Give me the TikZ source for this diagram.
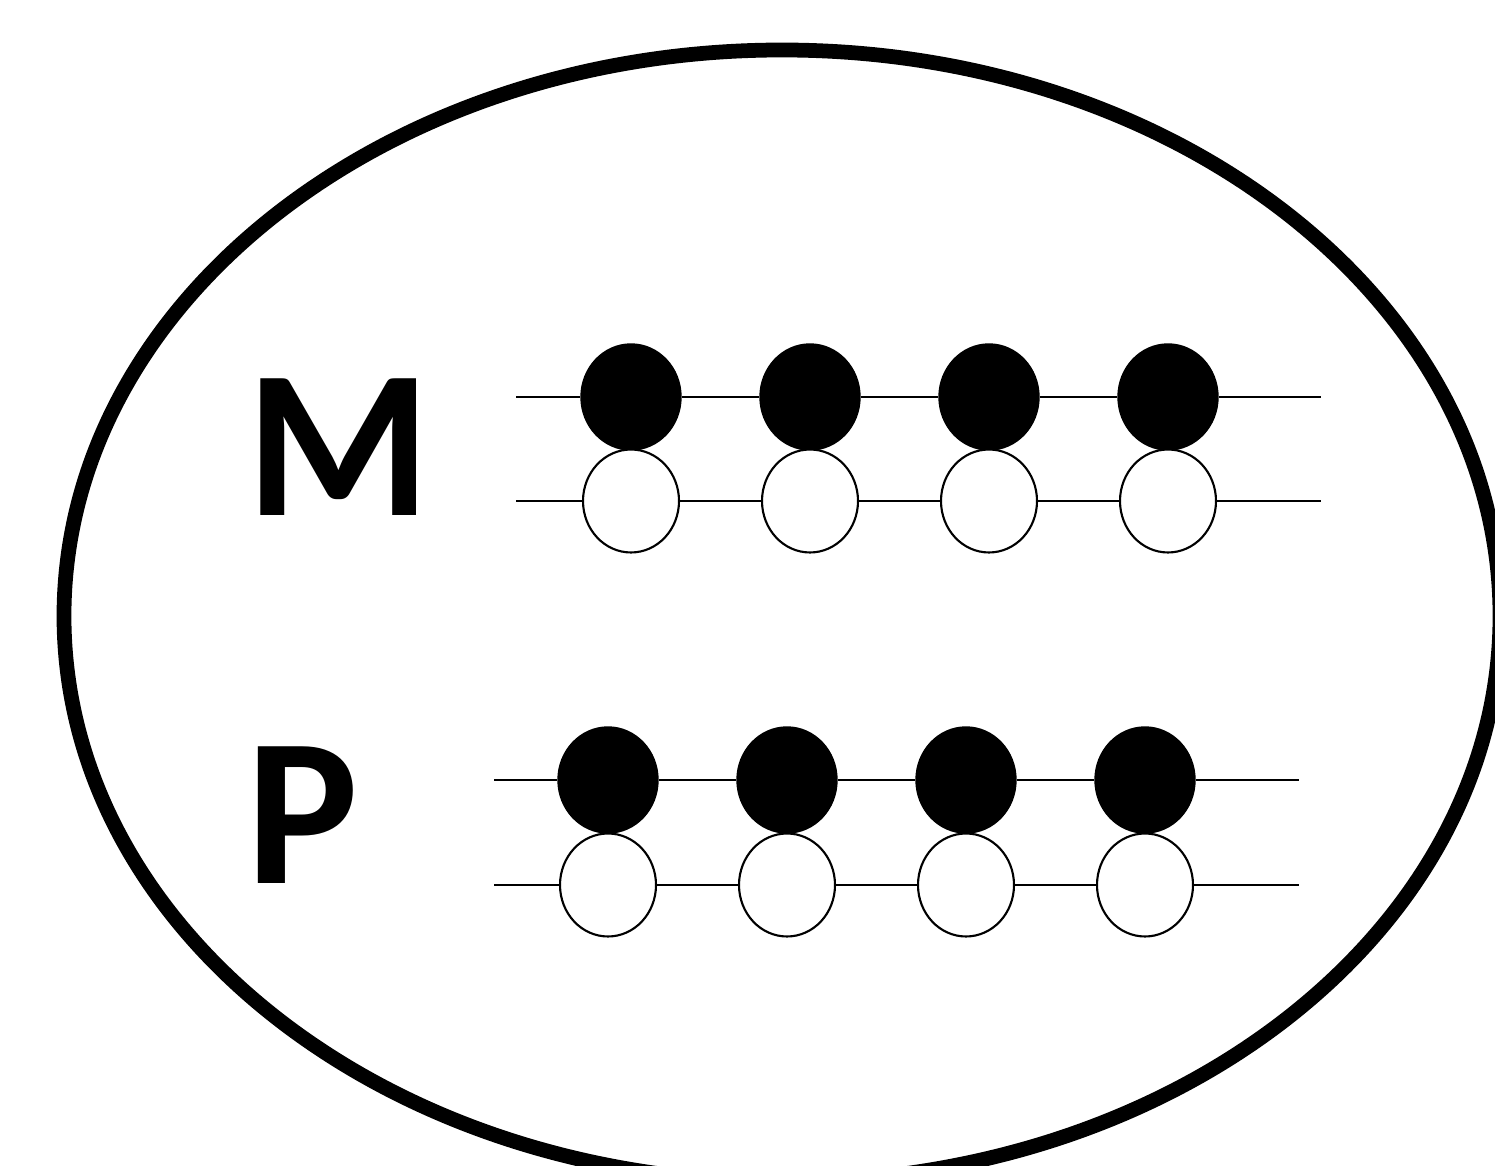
\documentclass[tikz,border=0pt]{standalone}
\usepackage{fontspec}
\setmainfont{Carlito}
\usetikzlibrary{shapes.geometric}
\tikzset{full bead/.style={ellipse,draw,fill=black,minimum width=1cm,minimum height=1.06cm,inner sep=0pt},
open bead/.style={ellipse,draw,fill=white,line width=0.6pt,minimum width=0.96cm,minimum height=1.03cm,inner sep=0pt},
wire/.style={line width=0.6pt},
big letter/.style={font=\fontsize{60}{60}\selectfont\bfseries,inner sep=0pt,anchor=base west}}

\begin{document}
\begin{tikzpicture}
			\useasboundingbox (0,0) rectangle (14.95,11.66);
			\clip (0,0) rectangle (14.95,11.66);
			\def\dx{1.79}
			% outer ring
			\draw[line width=4.2pt] (7.82,5.50) ellipse [x radius=7.18,y radius=5.66];

			% labels
			\node[big letter] (labM) at (2.46,6.50) {M};
			\node[big letter] (labP) at (2.46,2.82) {P};

			% upper pair of rows
			\foreach \i in {1,...,4}{
				\node[full bead] (m\i) at ({6.31+(\i-1)*\dx},7.69) {};
				\node[open bead] (n\i) at ({6.31+(\i-1)*\dx},6.65) {};
			}
			\coordinate (ms) at (5.16,7.69);  \coordinate (me) at (13.21,7.69);
			\coordinate (ns) at (5.16,6.65);  \coordinate (ne) at (13.21,6.65);
			\draw[wire] (ms) -- (m1) -- (m2) -- (m3) -- (m4) -- (me);
			\draw[wire] (ns) -- (n1) -- (n2) -- (n3) -- (n4) -- (ne);

			% lower pair of rows
			\foreach \i in {1,...,4}{
				\node[full bead] (p\i) at ({6.08+(\i-1)*\dx},3.86) {};
				\node[open bead] (q\i) at ({6.08+(\i-1)*\dx},2.81) {};
			}
			\coordinate (ps) at (4.94,3.86);  \coordinate (pe) at (12.99,3.86);
			\coordinate (qs) at (4.94,2.81);  \coordinate (qe) at (12.99,2.81);
			\draw[wire] (ps) -- (p1) -- (p2) -- (p3) -- (p4) -- (pe);
			\draw[wire] (qs) -- (q1) -- (q2) -- (q3) -- (q4) -- (qe);
		\end{tikzpicture}
\end{document}
